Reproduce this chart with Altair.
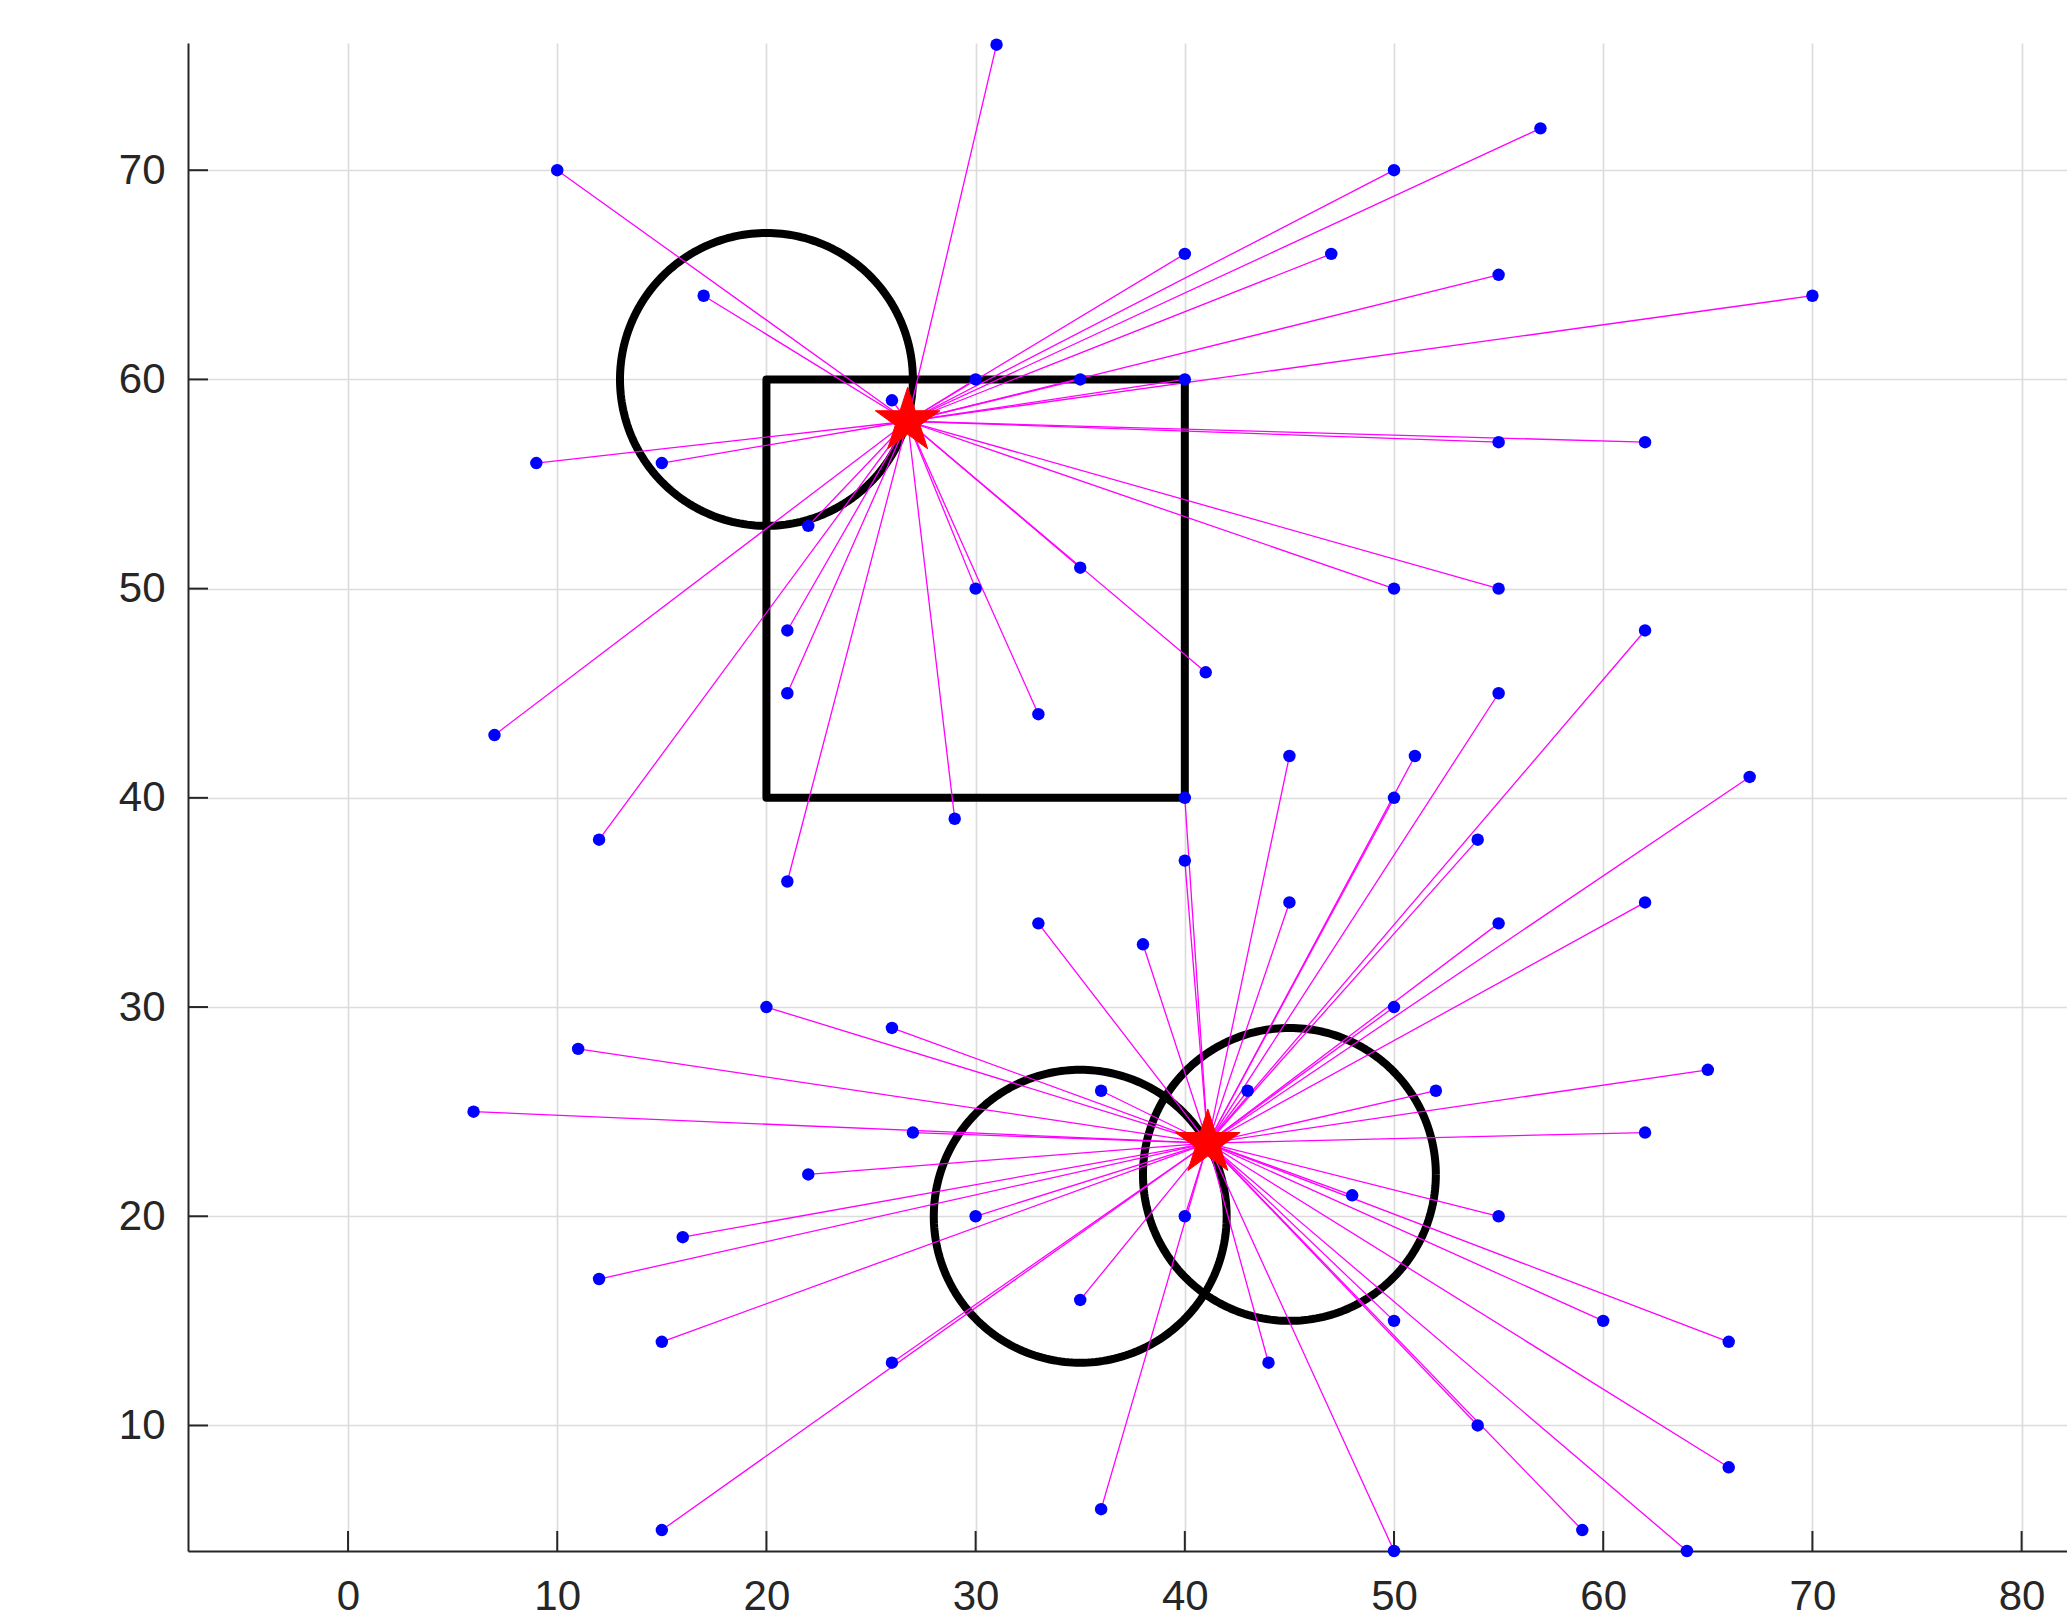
import altair as alt
import numpy as np
import pandas as pd

# Measurement points and the index of the estimated source each one is linked to
pts_x = [31, 10, 57, 50, 40, 47, 17, 55, 70, 30, 35, 40, 26, 9, 15, 55, 62, 22, 30, 35,
         50, 55, 21, 21, 41, 33, 7, 12, 29, 21,
         40, 45, 51, 62, 55, 50, 54, 67, 40, 45, 62, 33, 38, 55, 20, 26, 50, 11, 65, 6,
         36, 43, 52, 27, 62, 22, 48, 30, 40, 55, 16, 12, 35, 15, 50, 60, 66, 26, 44, 54,
         66, 36, 15, 59, 50, 64]
pts_y = [76, 70, 72, 70, 66, 66, 64, 65, 64, 60, 60, 60, 59, 56, 56, 57, 57, 53, 50, 51,
         50, 50, 48, 45, 46, 44, 43, 38, 39, 36,
         40, 42, 42, 48, 45, 40, 38, 41, 37, 35, 35, 34, 33, 34, 30, 29, 30, 28, 27, 25,
         26, 26, 26, 24, 24, 22, 21, 20, 20, 20, 19, 17, 16, 14, 15, 15, 14, 13, 13, 10,
         8, 6, 5, 5, 4, 4]
pts_src = [0] * 30 + [1] * 46

# Estimated source locations
src_x = [26.75, 41.1]
src_y = [58.0, 23.5]

# Circular regions: centre and radius
circ_cx = [20, 35, 45]
circ_cy = [60, 20, 22]
circ_r = [7, 7, 7]

# Rectangular region
rect_x = [20, 40]
rect_y = [40, 60]

x_ticks = [0, 10, 20, 30, 40, 50, 60, 70, 80]
y_ticks = [10, 20, 30, 40, 50, 60, 70]

W, H = 1879, 1508
INK = "#262626"
FONT = "Liberation Sans"

xs = alt.Scale(domain=[-7.65, 82.17], nice=False, zero=False)
ys = alt.Scale(domain=[4.0, 76.08], nice=False, zero=False)
xa = alt.Axis(values=x_ticks, grid=True, gridColor="#dcdcdc", gridWidth=1.7, ticks=False,
              domainColor=INK, domainWidth=2, labelFont=FONT, labelFontSize=42,
              labelColor=INK, labelPadding=25, labelFlush=False, labelOverlap=False,
              title=None, format="d")
ya = alt.Axis(values=y_ticks, grid=True, gridColor="#dcdcdc", gridWidth=1.7, ticks=False,
              domainColor=INK, domainWidth=2, labelFont=FONT, labelFontSize=42,
              labelColor=INK, labelPadding=23, labelFlush=False, labelOverlap=False,
              title=None, format="d")


def X(f):
    return alt.X(f, type="quantitative", scale=xs, axis=xa)


def Y(f):
    return alt.Y(f, type="quantitative", scale=ys, axis=ya)


pts = pd.DataFrame({"x": pts_x, "y": pts_y, "src": pts_src})
pts["sx"] = [src_x[s] for s in pts_src]
pts["sy"] = [src_y[s] for s in pts_src]
srcs = pd.DataFrame({"x": src_x, "y": src_y})

# outline vertices of each circular region
rows = []
for k, (cx, cy, r) in enumerate(zip(circ_cx, circ_cy, circ_r)):
    for i, a in enumerate(np.linspace(0, 2 * np.pi, 241)):
        rows.append({"c": k, "i": i, "x": cx + r * np.cos(a), "y": cy + r * np.sin(a)})
circ = pd.DataFrame(rows)

rect = pd.DataFrame({"x0": [rect_x[0]], "x1": [rect_x[1]], "y0": [rect_y[0]], "y1": [rect_y[1]]})

# five-pointed star symbol, outer radius 1
ang = -np.pi / 2 + np.arange(10) * np.pi / 5
rad = np.where(np.arange(10) % 2 == 0, 1.0, 0.381966)
star_path = "M" + "L".join(f"{r*np.cos(a):.4f},{r*np.sin(a):.4f}" for r, a in zip(rad, ang)) + "Z"

xt = pd.DataFrame({"t": x_ticks})
yt = pd.DataFrame({"t": y_ticks})

tick_x = alt.Chart(xt).mark_rule(color=INK, strokeWidth=2).encode(
    x=X("t"), y=alt.value(H), y2=alt.value(H - 20))
tick_y = alt.Chart(yt).mark_rule(color=INK, strokeWidth=2).encode(
    y=Y("t"), x=alt.value(0), x2=alt.value(20))

box = alt.Chart(rect).mark_rect(filled=False, stroke="black", strokeWidth=8,
                                strokeJoin="round").encode(
    x=X("x0"), x2="x1", y=Y("y0"), y2="y1")

rings = alt.Chart(circ).mark_line(color="black", strokeWidth=8, strokeJoin="round").encode(
    x=X("x"), y=Y("y"), detail="c:N", order="i:Q")

links = alt.Chart(pts).mark_rule(color="#ff00ff", strokeWidth=1.3).encode(
    x=X("x"), y=Y("y"), x2="sx", y2="sy")

dots = alt.Chart(pts).mark_circle(color="#0000ff", size=155, opacity=1).encode(
    x=X("x"), y=Y("y"))

stars = alt.Chart(srcs).mark_point(shape=star_path, filled=True, fill="#ff0000",
                                   stroke="#ff0000", strokeWidth=1, size=4624,
                                   opacity=1).encode(x=X("x"), y=Y("y"))

chart = alt.layer(tick_x, tick_y, box, rings, links, dots, stars).properties(
    width=W, height=H,
    padding={"left": 188, "top": 43, "right": 0, "bottom": 67},
    autosize=alt.AutoSizeParams(type="none"),
    background="white",
).configure_view(stroke=None)

chart.save("out.html", embed_options={"renderer": "svg", "actions": False})
